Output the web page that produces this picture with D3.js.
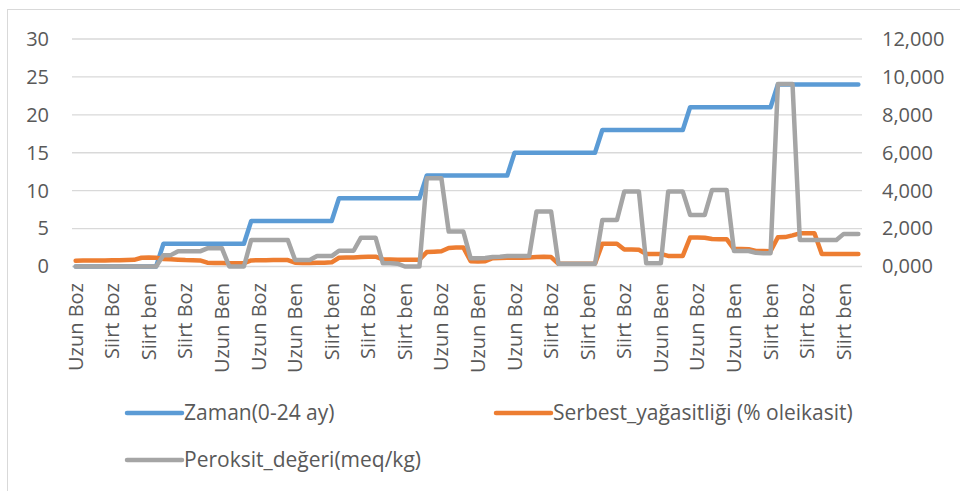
<!DOCTYPE html>
<html>
<head>
<meta charset="utf-8">
<script src="https://cdn.jsdelivr.net/npm/d3@7"></script>
<style>
  body { margin: 0; background: #fff; }
  svg { display: block; }
  text { font-family: "Open Sans", sans-serif; fill: #595959; }
</style>
</head>
<body>
<svg id="chart" width="960" height="491"></svg>
<script>
// Samples: 9 storage times x 4 sample types x 3 replicates
const categories = [
  "Uzun Boz","Uzun Boz","Uzun Boz","Siirt Boz","Siirt Boz","Siirt Boz","Uzun Ben","Uzun Ben","Uzun Ben","Siirt ben","Siirt ben","Siirt ben",
  "Uzun Boz","Uzun Boz","Uzun Boz","Siirt Boz","Siirt Boz","Siirt Boz","Uzun Ben","Uzun Ben","Uzun Ben","Siirt ben","Siirt ben","Siirt ben",
  "Uzun Boz","Uzun Boz","Uzun Boz","Siirt Boz","Siirt Boz","Siirt Boz","Uzun Ben","Uzun Ben","Uzun Ben","Siirt ben","Siirt ben","Siirt ben",
  "Uzun Boz","Uzun Boz","Uzun Boz","Siirt Boz","Siirt Boz","Siirt Boz","Uzun Ben","Uzun Ben","Uzun Ben","Siirt ben","Siirt ben","Siirt ben",
  "Uzun Boz","Uzun Boz","Uzun Boz","Siirt Boz","Siirt Boz","Siirt Boz","Uzun Ben","Uzun Ben","Uzun Ben","Siirt ben","Siirt ben","Siirt ben",
  "Uzun Boz","Uzun Boz","Uzun Boz","Siirt Boz","Siirt Boz","Siirt Boz","Uzun Ben","Uzun Ben","Uzun Ben","Siirt ben","Siirt ben","Siirt ben",
  "Uzun Boz","Uzun Boz","Uzun Boz","Siirt Boz","Siirt Boz","Siirt Boz","Uzun Ben","Uzun Ben","Uzun Ben","Siirt ben","Siirt ben","Siirt ben",
  "Uzun Boz","Uzun Boz","Uzun Boz","Siirt Boz","Siirt Boz","Siirt Boz","Uzun Ben","Uzun Ben","Uzun Ben","Siirt ben","Siirt ben","Siirt ben",
  "Uzun Boz","Uzun Boz","Uzun Boz","Siirt Boz","Siirt Boz","Siirt Boz","Uzun Ben","Uzun Ben","Uzun Ben","Siirt ben","Siirt ben","Siirt ben"
];

// Storage time in months (primary axis)
const zaman = [
  0,0,0,0,0,0,0,0,0,0,0,0,
  3,3,3,3,3,3,3,3,3,3,3,3,
  6,6,6,6,6,6,6,6,6,6,6,6,
  9,9,9,9,9,9,9,9,9,9,9,9,
  12,12,12,12,12,12,12,12,12,12,12,12,
  15,15,15,15,15,15,15,15,15,15,15,15,
  18,18,18,18,18,18,18,18,18,18,18,18,
  21,21,21,21,21,21,21,21,21,21,21,21,
  24,24,24,24,24,24,24,24,24,24,24,24
];

// Free fatty acidity, % oleic acid (secondary axis)
const serbestYag = [
  0.30,0.31,0.31,0.32,0.32,0.33,0.33,0.34,0.35,0.46,0.47,0.46,
  0.40,0.38,0.36,0.34,0.33,0.32,0.20,0.18,0.18,0.17,0.17,0.17,
  0.32,0.33,0.33,0.34,0.34,0.34,0.20,0.19,0.19,0.20,0.20,0.22,
  0.46,0.48,0.48,0.50,0.52,0.52,0.38,0.37,0.36,0.35,0.35,0.36,
  0.76,0.78,0.80,0.98,1.00,1.00,0.28,0.26,0.28,0.44,0.45,0.46,
  0.46,0.46,0.47,0.50,0.51,0.50,0.14,0.14,0.14,0.14,0.14,0.14,
  1.20,1.20,1.20,0.90,0.90,0.88,0.66,0.66,0.66,0.56,0.55,0.56,
  1.53,1.53,1.52,1.45,1.44,1.44,0.92,0.92,0.91,0.82,0.82,0.80,
  1.54,1.55,1.64,1.75,1.76,1.75,0.66,0.66,0.66,0.66,0.66,0.66
];

// Peroxide value, meq/kg (secondary axis)
const peroksit = [
  0.00,0.00,0.00,0.00,0.00,0.00,0.00,0.00,0.00,0.00,0.00,0.00,
  0.60,0.60,0.80,0.80,0.80,0.80,0.96,0.96,0.96,0.00,0.00,0.00,
  1.40,1.40,1.40,1.40,1.40,1.40,0.34,0.34,0.34,0.55,0.55,0.55,
  0.83,0.83,0.83,1.52,1.52,1.52,0.17,0.17,0.15,0.00,0.00,0.00,
  4.65,4.65,4.65,1.84,1.84,1.84,0.43,0.43,0.45,0.50,0.52,0.55,
  0.55,0.55,0.55,2.90,2.90,2.90,0.15,0.15,0.15,0.15,0.15,0.15,
  2.45,2.45,2.45,3.95,3.95,3.95,0.17,0.17,0.17,3.95,3.95,3.95,
  2.72,2.72,2.72,4.04,4.04,4.04,0.82,0.82,0.82,0.72,0.70,0.70,
  9.62,9.62,9.62,1.40,1.40,1.40,1.40,1.40,1.40,1.72,1.72,1.72
];

const leftTicks = [0, 5, 10, 15, 20, 25, 30];
const rightTicks = [0, 2, 4, 6, 8, 10, 12];
const seriesNames = ["Zaman(0-24 ay)", "Serbest_yağasitliği (% oleikasit)", "Peroksit_değeri(meq/kg)"];
const seriesColors = ["#5b9bd5", "#ed7d31", "#a5a5a5"];

const svg = d3.select("#chart");
const plot = { left: 72, right: 862, top: 39, bottom: 266.5 };

// chart frame
svg.append("rect")
  .attr("x", 7.5).attr("y", 9.5).attr("width", 1000).attr("height", 1000)
  .attr("fill", "none").attr("stroke", "#d9d9d9").attr("stroke-width", 1);

const x = d3.scaleBand().domain(d3.range(categories.length)).range([plot.left, plot.right]);
const cx = i => x(i) + x.bandwidth() / 2;
const yL = d3.scaleLinear().domain([0, 30]).range([plot.bottom, plot.top]);
const yR = d3.scaleLinear().domain([0, 12]).range([plot.bottom, plot.top]);

const trFormat = d3.formatLocale({ decimal: ",", thousands: ".", grouping: [3], currency: ["", ""] }).format(".3f");

// horizontal gridlines
svg.append("g").selectAll("line").data(leftTicks).join("line")
  .attr("x1", plot.left).attr("x2", plot.right)
  .attr("y1", d => yL(d)).attr("y2", d => yL(d))
  .attr("stroke", "#d9d9d9").attr("stroke-width", 1.3);

// left axis
const leftAxis = svg.append("g")
  .attr("transform", `translate(${plot.left},0)`)
  .call(d3.axisLeft(yL).tickValues(leftTicks).tickSize(0).tickPadding(23).tickFormat(d3.format("d")));
leftAxis.select(".domain").remove();
leftAxis.selectAll("text").attr("font-size", 20).attr("font-family", "Open Sans").attr("fill", "#595959");

// right axis
const rightAxis = svg.append("g")
  .attr("transform", `translate(${plot.right},0)`)
  .call(d3.axisRight(yR).tickValues(rightTicks).tickSize(0).tickPadding(20).tickFormat(trFormat));
rightAxis.select(".domain").remove();
rightAxis.selectAll("text").attr("font-size", 20).attr("font-family", "Open Sans").attr("fill", "#595959");

// category labels (every fifth category)
const labelIdx = d3.range(categories.length).filter(i => i % 5 === 0);
svg.append("g").selectAll("text").data(labelIdx).join("text")
  .attr("transform", i => `translate(${cx(i)},283) rotate(-90)`)
  .attr("text-anchor", "end")
  .attr("dy", "0.35em")
  .attr("font-size", 20)
  .text(i => categories[i]);

// series lines
const series = [
  { values: zaman, y: yL },
  { values: serbestYag, y: yR },
  { values: peroksit, y: yR }
];
series.forEach((s, k) => {
  const line = d3.line().x((d, i) => cx(i)).y(d => s.y(d));
  svg.append("path")
    .datum(s.values)
    .attr("d", line)
    .attr("fill", "none")
    .attr("stroke", seriesColors[k])
    .attr("stroke-width", 4.5)
    .attr("stroke-linejoin", "round")
    .attr("stroke-linecap", "round");
});

// legend
const legendPos = [
  { x: 127, y: 413 },
  { x: 496, y: 413 },
  { x: 127, y: 460 }
];
const legend = svg.append("g").selectAll("g").data(seriesNames).join("g")
  .attr("transform", (d, i) => `translate(${legendPos[i].x},${legendPos[i].y})`);
legend.append("line")
  .attr("x1", 0).attr("x2", 55).attr("y1", 0).attr("y2", 0)
  .attr("stroke", (d, i) => seriesColors[i])
  .attr("stroke-width", 4.5).attr("stroke-linecap", "round");
legend.append("text")
  .attr("x", 57).attr("dy", "0.35em")
  .attr("font-size", 21)
  .text(d => d);
</script>
</body>
</html>
